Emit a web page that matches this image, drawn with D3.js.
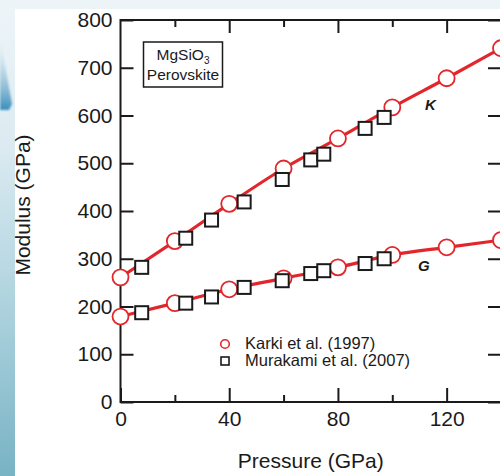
<!DOCTYPE html>
<html>
<head>
<meta charset="utf-8">
<script src="https://cdn.jsdelivr.net/npm/d3@7/dist/d3.min.js"></script>
<style>
  html, body { margin: 0; padding: 0; background: #ffffff; }
  svg { display: block; }
  text { font-family: "Liberation Sans", Arial, Helvetica, sans-serif; fill: #1a1a1a; }
</style>
</head>
<body>
<script>
// Karki et al. (1997): calculated moduli at regular pressure steps
const karkiPressure = [0, 20, 40, 60, 80, 100, 120, 140];
const karkiK = [261, 337, 415, 489, 552, 617, 678, 741];
const karkiG = [179, 207, 236, 259, 282, 308, 324, 339];

// Murakami et al. (2007): measured moduli
const murakamiPressure = [7.8, 24, 33.5, 45.5, 59.5, 70, 74.8, 90, 97];
const murakamiK = [282, 343, 381, 419, 466, 507, 519, 573, 596];
const murakamiG = [187, 207, 220, 240, 254, 269, 275, 290, 300];

// Axis ticks
const xMajorTicks = [0, 40, 80, 120];
const xMinorTicks = [20, 60, 100, 140];
const yTicks = [0, 100, 200, 300, 400, 500, 600, 700, 800];

const legendLabels = ["Karki et al. (1997)", "Murakami et al. (2007)"];
const boxLabel = ["MgSiO", "3", "Perovskite"];
const curveLabels = ["K", "G"];

const W = 500, H = 476;
const RED = "#e3262b";

const svg = d3.select("body").append("svg")
  .attr("width", W).attr("height", H);

// ---- slide backdrop ----
const defs = svg.append("defs");
const lg = defs.append("linearGradient").attr("id", "side")
  .attr("x1", 0).attr("y1", 0).attr("x2", 0).attr("y2", 1);
lg.append("stop").attr("offset", "0%").attr("stop-color", "#eef5f9");
lg.append("stop").attr("offset", "30%").attr("stop-color", "#dcebf1");
lg.append("stop").attr("offset", "60%").attr("stop-color", "#b4d6e1");
lg.append("stop").attr("offset", "100%").attr("stop-color", "#78b3c4");
const ag = defs.append("linearGradient").attr("id", "arrow")
  .attr("x1", 0).attr("y1", 0).attr("x2", 0).attr("y2", 1);
ag.append("stop").attr("offset", "0%").attr("stop-color", "#cfe4ee").attr("stop-opacity", 0);
ag.append("stop").attr("offset", "100%").attr("stop-color", "#3a8dba").attr("stop-opacity", 1);
defs.append("filter").attr("id", "soft").append("feGaussianBlur").attr("stdDeviation", 1.2);

svg.append("rect").attr("x", 0).attr("y", 0).attr("width", W).attr("height", H)
  .attr("fill", "url(#side)");
svg.append("rect").attr("x", 0).attr("y", 0).attr("width", W).attr("height", 9)
  .attr("fill", "#edf4f8");
svg.append("path").attr("d", "M0,38 L6,70 L12,104 L9,110 L0,110 Z")
  .attr("fill", "url(#arrow)").attr("filter", "url(#soft)");
svg.append("rect").attr("x", 15).attr("y", 9).attr("width", W - 15).attr("height", H - 9)
  .attr("fill", "#ffffff");

// ---- scales ----
const x = d3.scaleLinear().domain([0, 140]).range([120.5, 501]);
const y = d3.scaleLinear().domain([0, 800]).range([402, 20]);

// ---- axes ----
const fontSize = 21;
const styleAxis = g => {
  g.select(".domain").remove();
  g.selectAll(".tick line").attr("stroke", "#1a1a1a").attr("stroke-width", 2);
  g.selectAll(".tick text").attr("font-size", fontSize).attr("fill", "#1a1a1a")
    .attr("font-family", "Liberation Sans, Arial, sans-serif");
};

svg.append("g").attr("transform", `translate(0,${y(0)})`)
  .call(d3.axisBottom(x).tickValues(xMajorTicks).tickSize(-14).tickPadding(9).tickFormat(d3.format("d")))
  .call(styleAxis);
svg.append("g").attr("transform", `translate(0,${y(0)})`)
  .call(d3.axisBottom(x).tickValues(xMinorTicks).tickSize(-7).tickFormat(""))
  .call(styleAxis);
svg.append("g").attr("transform", `translate(0,${y(800)})`)
  .call(d3.axisTop(x).tickValues(xMajorTicks.slice(1)).tickSize(-13).tickFormat(""))
  .call(styleAxis);
svg.append("g").attr("transform", `translate(0,${y(800)})`)
  .call(d3.axisTop(x).tickValues(xMinorTicks).tickSize(-7).tickFormat(""))
  .call(styleAxis);
svg.append("g").attr("transform", `translate(${x(0)},0)`)
  .call(d3.axisLeft(y).tickValues(yTicks).tickSize(-13).tickPadding(8).tickFormat(d3.format("d")))
  .call(styleAxis);
svg.append("g").attr("transform", `translate(${x(140)},0)`)
  .call(d3.axisRight(y).tickValues(yTicks).tickSize(-13).tickFormat(""))
  .call(styleAxis);

// frame
svg.append("rect")
  .attr("x", x(0)).attr("y", y(800))
  .attr("width", x(140) - x(0)).attr("height", y(0) - y(800))
  .attr("fill", "none").attr("stroke", "#1a1a1a").attr("stroke-width", 2);

// axis titles
svg.append("text")
  .attr("transform", `translate(30,${(y(0) + y(800)) / 2 - 6}) rotate(-90)`)
  .attr("text-anchor", "middle").attr("font-size", fontSize)
  .text("Modulus (GPa)");
svg.append("text")
  .attr("x", (x(0) + x(140)) / 2).attr("y", 468)
  .attr("text-anchor", "middle").attr("font-size", fontSize)
  .text("Pressure (GPa)");

// ---- data ----
const line = d3.line().x(d => x(d[0])).y(d => y(d[1])).curve(d3.curveMonotoneX);
const series = [karkiK, karkiG];
series.forEach(vals => {
  const pts = karkiPressure.map((p, i) => [p, vals[i]]);
  svg.append("path").datum(pts).attr("d", line)
    .attr("fill", "none").attr("stroke", RED).attr("stroke-width", 3.2)
    .attr("stroke-linejoin", "round");
});
series.forEach(vals => {
  svg.append("g").selectAll("circle")
    .data(karkiPressure.map((p, i) => [p, vals[i]]))
    .join("circle")
    .attr("cx", d => x(d[0])).attr("cy", d => y(d[1])).attr("r", 8)
    .attr("fill", "#ffffff").attr("stroke", RED).attr("stroke-width", 1.8);
});
const sq = 13;
[murakamiK, murakamiG].forEach(vals => {
  svg.append("g").selectAll("rect")
    .data(murakamiPressure.map((p, i) => [p, vals[i]]))
    .join("rect")
    .attr("x", d => x(d[0]) - sq / 2).attr("y", d => y(d[1]) - sq / 2)
    .attr("width", sq).attr("height", sq)
    .attr("fill", "#ffffff").attr("stroke", "#1a1a1a").attr("stroke-width", 2);
});

// curve labels
svg.append("text").attr("x", x(112)).attr("y", 110)
  .attr("font-size", 15).attr("font-style", "italic").attr("font-weight", "bold")
  .attr("fill", "#2a2a2a").text(curveLabels[0]);
svg.append("text").attr("x", x(109.5)).attr("y", 271)
  .attr("font-size", 15).attr("font-style", "italic").attr("font-weight", "bold")
  .attr("fill", "#2a2a2a").text(curveLabels[1]);

// ---- annotation box ----
svg.append("rect").attr("x", 143.5).attr("y", 42).attr("width", 79).attr("height", 45)
  .attr("fill", "#ffffff").attr("stroke", "#1a1a1a").attr("stroke-width", 1.5);
const t1 = svg.append("text").attr("x", 183).attr("y", 60)
  .attr("text-anchor", "middle").attr("font-size", 15.5);
t1.append("tspan").text(boxLabel[0]);
t1.append("tspan").attr("font-size", 10).attr("dy", 4).text(boxLabel[1]);
svg.append("text").attr("x", 183).attr("y", 80)
  .attr("text-anchor", "middle").attr("font-size", 15.5).text(boxLabel[2]);

// ---- legend ----
svg.append("circle").attr("cx", 225).attr("cy", 344).attr("r", 4.3)
  .attr("fill", "#ffffff").attr("stroke", RED).attr("stroke-width", 1.6);
svg.append("rect").attr("x", 221).attr("y", 357).attr("width", 8).attr("height", 8)
  .attr("fill", "#ffffff").attr("stroke", "#1a1a1a").attr("stroke-width", 1.6);
svg.append("text").attr("x", 245).attr("y", 349).attr("font-size", 16.5).text(legendLabels[0]);
svg.append("text").attr("x", 245).attr("y", 366).attr("font-size", 16.5).text(legendLabels[1]);
</script>
</body>
</html>
